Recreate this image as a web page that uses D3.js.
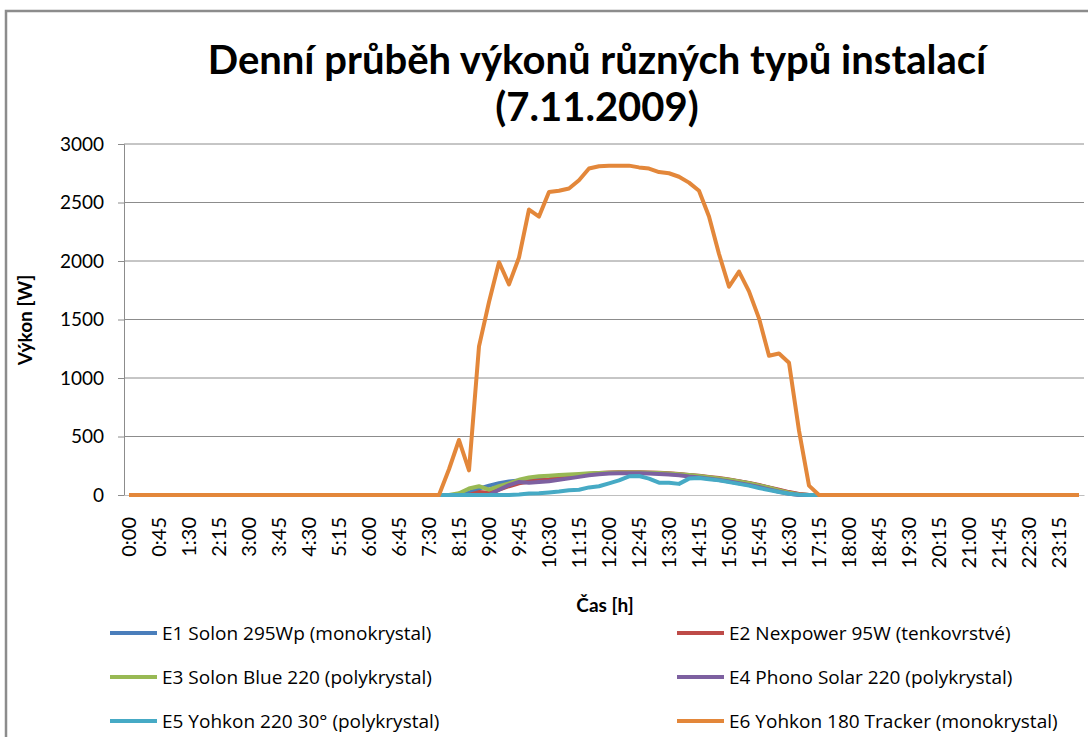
<!DOCTYPE html>
<html>
<head>
<meta charset="utf-8">
<script src="https://cdn.jsdelivr.net/npm/d3@7"></script>
<style>
  body { margin: 0; background: #fff; }
  text { font-family: Lato, "Open Sans", sans-serif; fill: #000; }
</style>
</head>
<body>
<svg id="chart" width="1088" height="737"></svg>
<script>
// Data: power [W] every 15 minutes, 7.11.2009
var times = d3.range(96).map(function(i) {
  return Math.floor(i / 4) + ':' + d3.format('02')((i % 4) * 15);
});

var seriesNames = [
  'E1 Solon 295Wp (monokrystal)',
  'E2 Nexpower 95W (tenkovrstvé)',
  'E3 Solon Blue 220 (polykrystal)',
  'E4 Phono Solar 220 (polykrystal)',
  'E5 Yohkon 220 30° (polykrystal)',
  'E6 Yohkon 180 Tracker (monokrystal)'
];
var seriesColors = ['#4a7ebb', '#be4b48', '#98b954', '#7d60a0', '#46aac5', '#e3873a'];

// values from 8:00 (index 32) to 17:15 (index 69); zero elsewhere
var dayStart = 32;
var e1Day = [0, 0, 20, 55, 80, 100, 115, 125, 128, 130, 135, 145, 158, 168, 178, 185, 188, 190, 190, 190,
  188, 185, 180, 175, 168, 160, 150, 140, 128, 115, 100, 82, 62, 42, 22, 6, 0, 0];
var e2Day = [0, 0, 0, 25, 20, 45, 75, 100, 115, 125, 130, 145, 160, 170, 180, 188, 192, 195, 195, 195,
  193, 190, 185, 180, 172, 165, 155, 145, 132, 118, 103, 85, 65, 45, 25, 8, 0, 0];
var e3Day = [0, 15, 55, 75, 45, 75, 100, 130, 150, 160, 165, 170, 175, 180, 185, 188, 190, 192, 192, 192,
  190, 187, 183, 178, 170, 162, 152, 142, 130, 116, 100, 82, 62, 40, 20, 5, 0, 0];
var e4Day = [0, 0, 0, 0, 0, 45, 85, 112, 105, 112, 118, 130, 142, 155, 168, 178, 183, 185, 185, 185,
  183, 180, 175, 168, 158, 150, 140, 128, 115, 100, 85, 68, 48, 28, 10, 0, 0, 0];
var e5Day = [0, 0, 0, 0, 0, 0, 0, 5, 12, 15, 22, 30, 40, 45, 65, 75, 100, 125, 160, 162,
  140, 105, 105, 95, 140, 145, 135, 125, 110, 95, 80, 60, 42, 25, 10, 3, 0, 0];
var e6Day = [220, 470, 210, 1270, 1650, 1990, 1800, 2030, 2440, 2380, 2590, 2600, 2620, 2690, 2790, 2810, 2815, 2815, 2815, 2800,
  2790, 2760, 2750, 2720, 2670, 2600, 2380, 2060, 1780, 1910, 1740, 1510, 1190, 1210, 1130, 550, 80, 0];

var yTicks = [0, 500, 1000, 1500, 2000, 2500, 3000];

function fullDay(dayValues) {
  return times.map(function(t, i) {
    var j = i - dayStart;
    return (j >= 0 && j < dayValues.length) ? dayValues[j] : 0;
  });
}

var seriesValues = [e1Day, e2Day, e3Day, e4Day, e5Day, e6Day].map(fullDay);

// Layout
var svg = d3.select('#chart');
var plot = { left: 124, right: 1084, top: 144, bottom: 495 };

svg.append('rect')
  .attr('x', 6).attr('y', 11)
  .attr('width', 1100).attr('height', 760)
  .attr('fill', '#fff')
  .attr('stroke', '#8c8c8c')
  .attr('stroke-width', 2.5);

var x = d3.scaleBand().domain(times).range([plot.left, plot.right]);
var y = d3.scaleLinear().domain([0, 3000]).range([plot.bottom, plot.top]);

// Gridlines
svg.append('g')
  .selectAll('line')
  .data(yTicks.slice(1))
  .enter().append('line')
    .attr('x1', plot.left).attr('x2', plot.right)
    .attr('y1', function(d) { return y(d); })
    .attr('y2', function(d) { return y(d); })
    .attr('stroke', '#8c8c8c')
    .attr('stroke-width', 1);

// Y axis
var yAxis = svg.append('g')
  .attr('transform', 'translate(' + plot.left + ',0)')
  .call(d3.axisLeft(y).tickValues(yTicks).tickFormat(d3.format('d')).tickSize(6).tickPadding(14));
yAxis.select('.domain').attr('stroke', '#8c8c8c');
yAxis.selectAll('.tick line').attr('stroke', '#8c8c8c');
yAxis.selectAll('.tick text')
  .style('font-size', '19px')
  .style('font-family', 'Lato, sans-serif')
  .attr('fill', '#000');

// X axis (category, label every 3rd slot)
var xAxis = svg.append('g')
  .attr('transform', 'translate(0,' + plot.bottom + ')')
  .call(d3.axisBottom(x)
    .tickValues(times.filter(function(t, i) { return i % 3 === 0; }))
    .tickSize(0));
xAxis.select('.domain').attr('stroke', '#bfbfbf');
xAxis.selectAll('.tick text')
  .style('font-size', '20px')
  .style('font-family', 'Lato, sans-serif')
  .attr('fill', '#000')
  .attr('text-anchor', 'end')
  .attr('dy', '0.35em')
  .attr('transform', 'translate(0,22) rotate(-90)')
  .attr('x', 0).attr('y', 0);

// Lines
var line = d3.line()
  .x(function(d, i) { return x(times[i]) + x.bandwidth() / 2; })
  .y(function(d) { return y(d); });

svg.append('g')
  .selectAll('path')
  .data(seriesValues)
  .enter().append('path')
    .attr('d', line)
    .attr('fill', 'none')
    .attr('stroke', function(d, i) { return seriesColors[i]; })
    .attr('stroke-width', 4)
    .attr('stroke-linejoin', 'round');

// Titles
svg.append('text')
  .attr('x', 597).attr('y', 74)
  .attr('text-anchor', 'middle')
  .style('font-size', '40px').style('font-weight', 'bold')
  .text('Denní průběh výkonů různých typů instalací');
svg.append('text')
  .attr('x', 597).attr('y', 121)
  .attr('text-anchor', 'middle')
  .style('font-size', '40px').style('font-weight', 'bold')
  .text('(7.11.2009)');

svg.append('text')
  .attr('transform', 'translate(32,320) rotate(-90)')
  .attr('text-anchor', 'middle')
  .style('font-size', '19px').style('font-weight', 'bold')
  .text('Výkon [W]');

svg.append('text')
  .attr('x', 605).attr('y', 612)
  .attr('text-anchor', 'middle')
  .style('font-size', '19px').style('font-weight', 'bold')
  .text('Čas [h]');

// Legend
var legend = svg.append('g')
  .selectAll('g')
  .data(seriesNames)
  .enter().append('g')
    .attr('transform', function(d, i) {
      return 'translate(' + (i % 2 === 0 ? 110 : 677) + ',' + (633 + Math.floor(i / 2) * 44) + ')';
    });

legend.append('line')
  .attr('x1', 0).attr('x2', 47)
  .attr('stroke', function(d, i) { return seriesColors[i]; })
  .attr('stroke-width', 4);

legend.append('text')
  .attr('x', 52).attr('dy', '0.35em')
  .style('font-family', '"Open Sans", sans-serif')
  .style('font-size', '19px')
  .text(function(d) { return d; });
</script>
</body>
</html>
